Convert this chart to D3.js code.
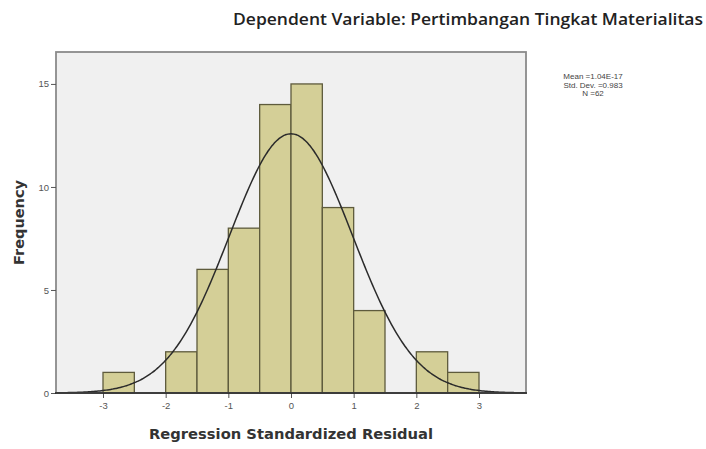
<!DOCTYPE html>
<html lang="id">
<head>
<meta charset="utf-8">
<style>
  body { margin: 0; background: #fff; }
  text { font-family: "Liberation Sans", Arial, sans-serif; }
</style>
</head>
<body>
<script src="https://cdn.jsdelivr.net/npm/d3@7/dist/d3.min.js"></script>
<script>
// histogram bins (lower edge) and counts
var binStart = [-3, -2.5, -2, -1.5, -1, -0.5, 0, 0.5, 1, 1.5, 2, 2.5];
var counts   = [ 1,   0,   2,   6,   8,  14, 15,   9, 4,   0, 2,   1];
var binWidth = 0.5;
var xTicks = [-3, -2, -1, 0, 1, 2, 3];
var yTicks = [0, 5, 10, 15];
var stats = { mean: 1.04e-17, sd: 0.983, n: 62 };
var legendLines = ["Mean =1.04E-17", "Std. Dev. =0.983", "N =62"];

var W = 706, H = 449;
var box = { left: 56, right: 526, top: 52, bottom: 393 };

var svg = d3.select("body").append("svg")
  .attr("width", W).attr("height", H);

var x = d3.scaleLinear().domain([-3.75, 3.75]).range([box.left, box.right]);
var y = d3.scaleLinear().domain([0, 16.55]).range([box.bottom, box.top]);

// plot background
svg.append("rect")
  .attr("x", box.left).attr("y", box.top)
  .attr("width", box.right - box.left).attr("height", box.bottom - box.top)
  .attr("fill", "#f0f0f0");

var data = binStart.map(function(b, i) { return { x0: b, count: counts[i] }; })
  .filter(function(d) { return d.count > 0; });

svg.append("g").selectAll("rect")
  .data(data)
  .enter().append("rect")
  .attr("x", function(d) { return x(d.x0); })
  .attr("y", function(d) { return y(d.count); })
  .attr("width", function(d) { return x(d.x0 + binWidth) - x(d.x0); })
  .attr("height", function(d) { return y(0) - y(d.count); })
  .attr("fill", "#d4cf97")
  .attr("stroke", "#5e5b3c")
  .attr("stroke-width", 1.3);

// fitted normal curve from the stats shown in the legend
var scale = stats.n * binWidth / (stats.sd * Math.sqrt(2 * Math.PI));
var curveX = d3.range(-3.75, 3.7501, 0.025);
var line = d3.line()
  .x(function(v) { return x(v); })
  .y(function(v) { var z = (v - stats.mean) / stats.sd; return y(scale * Math.exp(-0.5 * z * z)); })
  .curve(d3.curveBasis);
svg.append("path")
  .datum(curveX)
  .attr("d", line)
  .attr("fill", "none")
  .attr("stroke", "#2b2b2b")
  .attr("stroke-width", 1.5);

// frame
svg.append("rect")
  .attr("x", box.left).attr("y", box.top)
  .attr("width", box.right - box.left).attr("height", box.bottom - box.top)
  .attr("fill", "none")
  .attr("stroke", "#8a8a8a")
  .attr("stroke-width", 1.8);

// axes
var yAxis = svg.append("g")
  .attr("transform", "translate(" + box.left + ",0)")
  .call(d3.axisLeft(y).tickValues(yTicks).tickSize(5).tickPadding(2));
var xAxis = svg.append("g")
  .attr("transform", "translate(0," + box.bottom + ")")
  .call(d3.axisBottom(x).tickValues(xTicks).tickSize(5).tickPadding(4)
    .tickFormat(function(d) { return String(d); }));
[yAxis, xAxis].forEach(function(a) {
  a.select(".domain").remove();
  a.selectAll("line").attr("stroke", "#555");
  a.selectAll("text").attr("fill", "#555").attr("font-size", 9.5)
    .attr("font-family", "Liberation Sans, Arial, sans-serif");
});

svg.append("line")
  .attr("x1", box.left - 1).attr("x2", box.right + 1)
  .attr("y1", box.bottom).attr("y2", box.bottom)
  .attr("stroke", "#222").attr("stroke-width", 1.6);

// title and axis labels
svg.append("text")
  .attr("x", 703).attr("y", 25)
  .attr("text-anchor", "end")
  .attr("font-size", 17)
  .attr("font-weight", 600)
  .attr("textLength", 470)
  .attr("lengthAdjust", "spacingAndGlyphs")
  .style("font-family", "'Open Sans', sans-serif")
  .attr("fill", "#222")
  .text("Dependent Variable: Pertimbangan Tingkat Materialitas");

svg.append("text")
  .attr("transform", "translate(24," + ((box.top + box.bottom) / 2) + ") rotate(-90)")
  .attr("text-anchor", "middle")
  .attr("font-size", 13.5)
  .attr("font-weight", "bold")
  .attr("textLength", 85)
  .attr("lengthAdjust", "spacingAndGlyphs")
  .style("font-family", "'DejaVu Sans', sans-serif")
  .attr("fill", "#333")
  .text("Frequency");

svg.append("text")
  .attr("x", x(0)).attr("y", 439)
  .attr("text-anchor", "middle")
  .attr("font-size", 14)
  .attr("font-weight", "bold")
  .attr("textLength", 284)
  .attr("lengthAdjust", "spacingAndGlyphs")
  .style("font-family", "'DejaVu Sans', sans-serif")
  .attr("fill", "#333")
  .text("Regression Standardized Residual");

// legend
svg.append("g").selectAll("text")
  .data(legendLines)
  .enter().append("text")
  .attr("x", 593)
  .attr("y", function(d, i) { return 79 + i * 8.5; })
  .attr("text-anchor", "middle")
  .attr("font-size", 8)
  .attr("fill", "#444")
  .text(function(d) { return d; });
</script>
</body>
</html>
